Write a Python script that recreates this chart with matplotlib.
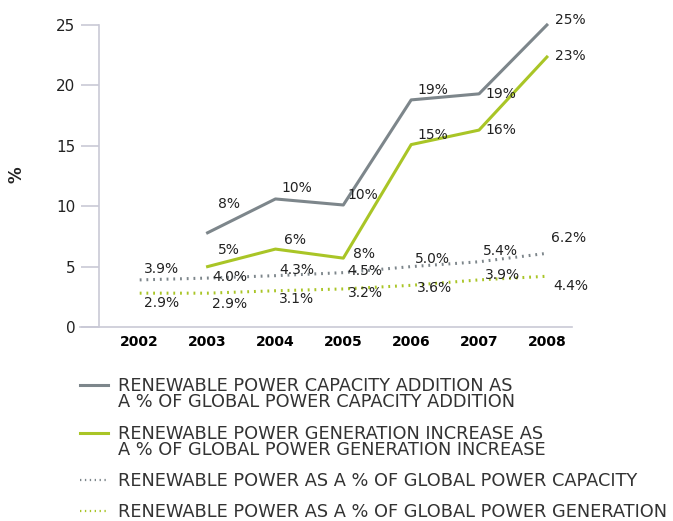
"""Renewable power shares of global capacity / generation, 2002-2008."""
import matplotlib
matplotlib.use("Agg")
import matplotlib.pyplot as plt
from matplotlib.lines import Line2D

years = [2002, 2003, 2004, 2005, 2006, 2007, 2008]

# values (None = no point)
cap_addition = [None, 7.8, 10.6, 10.1, 18.8, 19.3, 25.0]
gen_increase = [None, 5.0, 6.45, 5.7, 15.1, 16.3, 22.35]
cap_share = [3.9, 4.05, 4.25, 4.5, 5.0, 5.4, 6.1]
gen_share = [2.8, 2.8, 3.0, 3.15, 3.45, 3.9, 4.2]

cap_addition_lbl = ["", "8%", "10%", "10%", "19%", "19%", "25%"]
gen_increase_lbl = ["", "5%", "6%", "8%", "15%", "16%", "23%"]
cap_share_lbl = ["3.9%", "4.0%", "4.3%", "4.5%", "5.0%", "5.4%", "6.2%"]
gen_share_lbl = ["2.9%", "2.9%", "3.1%", "3.2%", "3.6%", "3.9%", "4.4%"]

legend_labels = [
    "RENEWABLE POWER CAPACITY ADDITION AS\nA % OF GLOBAL POWER CAPACITY ADDITION",
    "RENEWABLE POWER GENERATION INCREASE AS\nA % OF GLOBAL POWER GENERATION INCREASE",
    "RENEWABLE POWER AS A % OF GLOBAL POWER CAPACITY",
    "RENEWABLE POWER AS A % OF GLOBAL POWER GENERATION",
]

GREY = "#7d868b"
GREEN = "#a9c526"
AXC = "#c9c9d6"
TXT = "#222222"

W, H = 673, 521
fig = plt.figure(figsize=(W / 100, H / 100), dpi=100)
ax = fig.add_axes([99 / W, 1 - 327 / H, (572 - 99) / W, (327 - 25) / H])

def pts(xs, ys):
    return [x for x, y in zip(xs, ys) if y is not None], [y for y in ys if y is not None]

DOT = (0, (0.6, 1.6))
series = [
    (cap_addition, cap_addition_lbl, GREY, "-", 2.2,
     [(21, -29), (21, -11), (20, -10), (22, -10), (22, 0), (23, -5)]),
    (gen_increase, gen_increase_lbl, GREEN, "-", 2.2,
     [(21, -17), (20, -9), (21, -4), (22, -10), (22, 0), (23, -1)]),
    (cap_share, cap_share_lbl, GREY, DOT, 2.2,
     [(22, -11), (22, -1), (21, -6), (22, -2), (21, -8), (21, -11), (22, -15)]),
    (gen_share, gen_share_lbl, GREEN, DOT, 2.2,
     [(22, 10), (22, 11), (21, 8), (22, 4), (23, 3), (23, -5), (24, 10)]),
]

for vals, lbls, col, ls, lw, offs in series:
    xs, ys = pts(years, vals)
    ax.plot(xs, ys, color=col, linestyle=ls, linewidth=lw, clip_on=False)
    lb = [l for l in lbls if l]
    for x, y, t, o in zip(xs, ys, lb, offs):
        ax.annotate(t, (x, y), xytext=(o[0], -o[1]), textcoords="offset pixels",
                    ha="center", va="center", fontsize=10, color=TXT)

ax.set_xlim(2001.4, 2008.37)
ax.set_ylim(0, 25)
ax.set_xticks(years)
ax.set_xticklabels([str(y) for y in years], fontweight="bold", fontsize=10, color="black")
ax.set_yticks([0, 5, 10, 15, 20, 25])
ax.tick_params(axis="y", length=13, width=1.2, color=AXC, labelsize=11, labelcolor=TXT, pad=4)
ax.tick_params(axis="x", length=0, pad=6)
for s in ["top", "right"]:
    ax.spines[s].set_visible(False)
for s in ["left", "bottom"]:
    ax.spines[s].set_color(AXC)
    ax.spines[s].set_linewidth(1.2)
ax.spines["bottom"].set_bounds(2001.4 - 19 / 68, 2008.37)
ax.set_ylabel("%", fontsize=12, fontweight="bold", color=TXT)
ax.yaxis.set_label_coords((26 - 99) / 473, 0.503)

# legend drawn by hand so the handle lines up with the first text line
leg_y = [385, 433, 480, 511]
for (vals, lbls, col, ls, lw, offs), lbl, y in zip(series, legend_labels, leg_y):
    fig.add_artist(Line2D([80 / W, 108 / W], [1 - y / H, 1 - y / H], color=col,
                          linestyle=ls, linewidth=lw if ls == "-" else 1.6))
    fig.text(118 / W, 1 - (y - 8) / H, lbl, ha="left", va="top", fontsize=12.75,
             color="#333333", linespacing=0.85)

fig.savefig("out.png", dpi=100)
